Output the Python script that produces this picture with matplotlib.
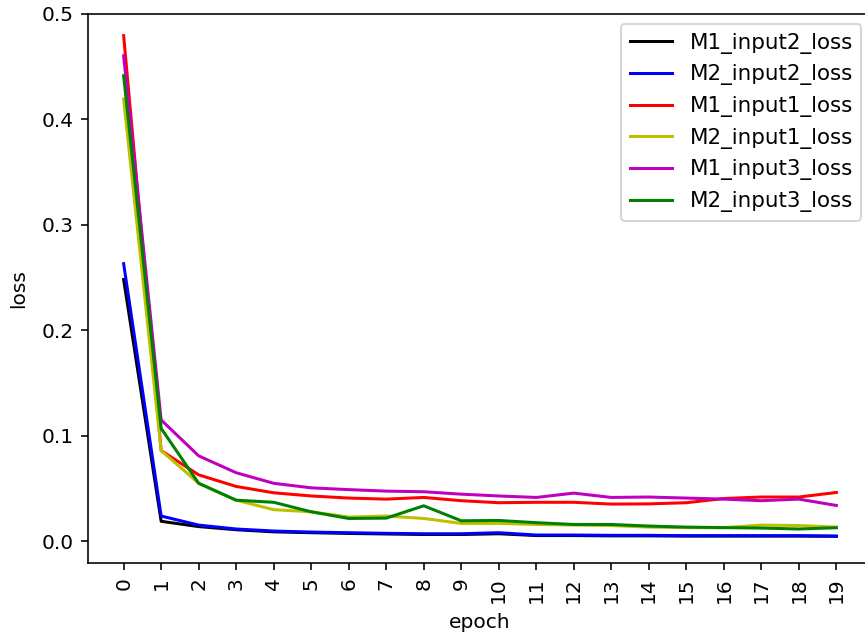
import numpy as np
import matplotlib
matplotlib.use("Agg")
from matplotlib import pyplot as plt

epochs = list(range(20))

m1_input2 = [0.248, 0.019, 0.014, 0.011, 0.009, 0.0082, 0.0075, 0.007, 0.0065, 0.0065,
             0.0072, 0.0055, 0.0055, 0.0052, 0.0052, 0.005, 0.005, 0.005, 0.005, 0.0048]
m2_input2 = [0.263, 0.024, 0.0154, 0.0117, 0.0098, 0.0088, 0.0082, 0.0076, 0.0072, 0.0072,
             0.0082, 0.006, 0.006, 0.0057, 0.0057, 0.0054, 0.0054, 0.0054, 0.0054, 0.005]
m1_input1 = [0.479, 0.086, 0.063, 0.052, 0.046, 0.043, 0.041, 0.040, 0.0416, 0.0385,
             0.0366, 0.037, 0.037, 0.0353, 0.0355, 0.0366, 0.0406, 0.042, 0.042, 0.0463]
m2_input1 = [0.419, 0.086, 0.055, 0.039, 0.030, 0.028, 0.023, 0.024, 0.0217, 0.017,
             0.017, 0.016, 0.0155, 0.015, 0.0135, 0.013, 0.013, 0.0154, 0.015, 0.0135]
m1_input3 = [0.460, 0.115, 0.081, 0.065, 0.055, 0.0507, 0.049, 0.0476, 0.047, 0.0447,
             0.043, 0.0416, 0.0457, 0.0416, 0.042, 0.041, 0.040, 0.0385, 0.040, 0.034]
m2_input3 = [0.441, 0.107, 0.055, 0.039, 0.037, 0.028, 0.0217, 0.022, 0.0337, 0.0195,
             0.0198, 0.0177, 0.016, 0.016, 0.0145, 0.0135, 0.013, 0.0126, 0.0117, 0.0129]

series = [
    ("M1_input2_loss", m1_input2, "k"),
    ("M2_input2_loss", m2_input2, "b"),
    ("M1_input1_loss", m1_input1, "r"),
    ("M2_input1_loss", m2_input1, "y"),
    ("M1_input3_loss", m1_input3, "m"),
    ("M2_input3_loss", m2_input3, "g"),
]

dpi = 145
fig = plt.figure(figsize=(865 / dpi, 639 / dpi), dpi=dpi)
ax = fig.add_axes([88/865, 1 - 563/639, (872 - 88)/865, (563 - 13.5)/639])

for name, vals, c in series:
    ax.plot(epochs, vals, color=c, label=name)

ax.set_xticks(epochs)
ax.set_xticklabels([str(e) for e in epochs], rotation=90)
ax.set_yticks([0.0, 0.1, 0.2, 0.3, 0.4, 0.5])
ax.set_ylim(-0.0205, 0.5)
ax.set_xlabel("epoch", labelpad=5)
ax.set_ylabel("loss", labelpad=7)
ax.legend(loc="upper right", fontsize=10.6)

fig.savefig("out.png", dpi=dpi)
